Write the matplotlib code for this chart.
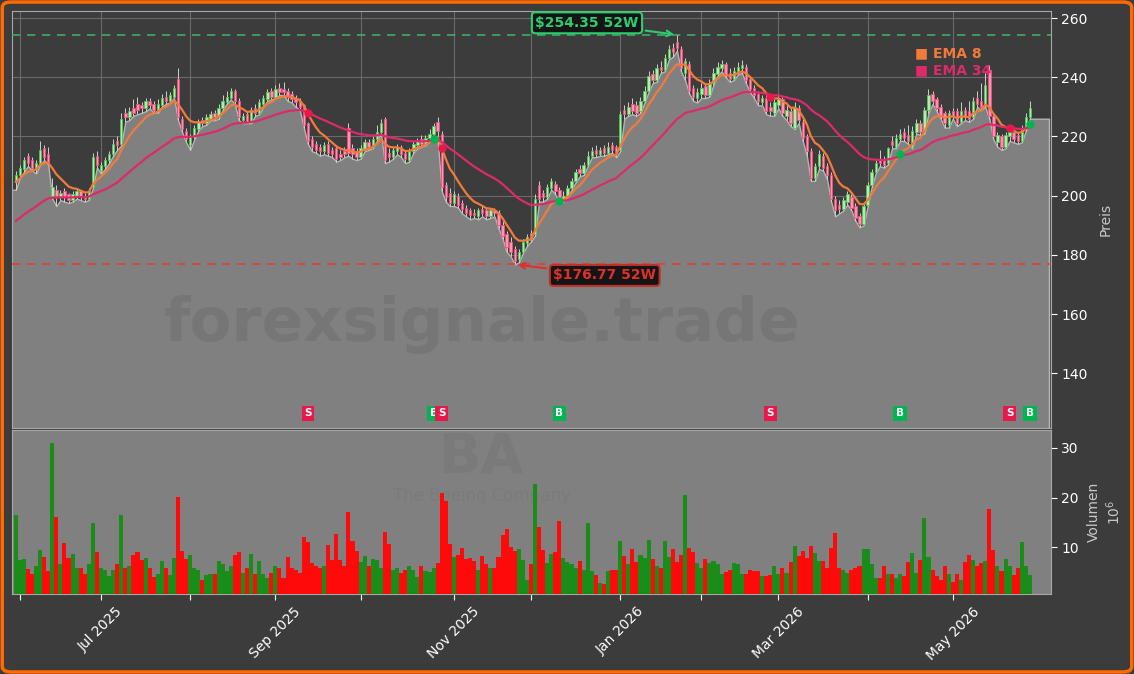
import numpy as np
import pandas as pd
import matplotlib
matplotlib.use('Agg')
import matplotlib.pyplot as plt
from matplotlib.patches import FancyBboxPatch

# Handelstage (NYSE) 30.05.2025 - 29.05.2026
holidays = ['2025-06-19', '2025-07-04', '2025-09-01', '2025-11-27', '2025-12-25',
            '2026-01-01', '2026-01-19', '2026-02-16', '2026-04-03', '2026-05-25']
dates = pd.bdate_range('2025-05-30', '2026-05-29', freq='C', holidays=holidays)

opens = [204.5, 207, 209, 213.5, 212, 209, 211, 216, 214, 200, 202, 199.5, 201.5, 200.5, 198.5, 200, 201.5, 200, 199, 203,
         213.5, 208.5, 210, 212, 214, 218.5, 217.5, 228, 226.5, 229.5, 231, 230.5, 229.5, 232, 231, 229, 230.5, 233.5, 232, 233.5,
         239.5, 226, 222, 217, 220, 222.5, 225.5, 224.5, 226, 228, 226.5, 229.5, 231.5, 233, 235.5, 232, 225.5, 227.5, 225, 229.5,
         228, 231, 232.5, 235.5, 233.5, 236.5, 236, 235.5, 234.5, 233, 232, 230.5, 224.5, 219, 217.5, 216.5, 215, 217.5, 215.5, 216,
         214, 215, 223, 216, 215, 213, 215.5, 218, 216.5, 219, 221.5, 226, 214.5, 213, 215, 216.5, 214.5, 212, 215, 217,
         219, 217.5, 219.5, 221, 225, 221, 203.5, 201, 197.5, 200, 197.5, 196, 195, 194, 193, 195.5, 195, 193, 195, 194,
         190, 187, 184.5, 182, 178.5, 181, 184, 187.5, 187, 203.5, 201, 199.5, 202.5, 204, 202, 198.5, 200, 202.5, 205, 209,
         207.5, 210.5, 213.5, 215.5, 214, 216, 214.5, 217, 216.5, 215.5, 229, 227.5, 231, 230.5, 228.5, 232, 235.5, 241, 239, 243.5,
         242.5, 246.5, 250, 252, 249.5, 241.5, 244.5, 236.5, 233, 234.5, 237, 234, 238, 241, 243, 244.5, 241.5, 239.5, 242, 243,
         243.5, 239.5, 236.5, 234.5, 231.5, 233, 230, 228, 230.5, 232.5, 227, 228.5, 223, 229.5, 225, 220, 215, 206, 210, 213.5,
         210, 207, 199, 197, 195.5, 198, 199.5, 196.5, 193, 190.5, 197, 203.5, 208, 212.5, 212, 211, 218.5, 216.5, 219, 221.5,
         220.5, 216.5, 221.5, 224.5, 222, 229, 234.5, 232.5, 230, 228, 224, 228.5, 228.5, 225, 229, 228.5, 226.5, 233, 232, 230.5,
         242.5, 227, 218, 220, 216.5, 220, 221.5, 220.5, 218.5, 222.5, 226.5]
highs = [208.5, 210.5, 213, 214.5, 213, 212, 218.5, 217, 216.5, 206, 203.5, 202, 202.5, 201, 201.5, 202.5, 202, 201, 202.5, 214.5,
         215, 211.5, 213, 215, 219, 220, 228, 229.5, 230, 232.5, 233.5, 231.5, 233, 233, 232, 232.5, 234.5, 235.5, 235, 237.5,
         243, 227, 223, 221, 224, 226, 226.5, 227.5, 228.5, 229, 231, 234, 235.5, 236.5, 236, 233, 228, 228.5, 230, 231,
         232.5, 234, 236, 236.5, 237.5, 238, 238.5, 236.5, 235.5, 234, 233, 231, 225, 220, 218.5, 217.5, 218, 218.5, 216.5, 217,
         215.5, 216.5, 224.5, 217.5, 216, 217, 219, 219, 220, 224, 226, 226.5, 216, 216.5, 217.5, 217, 215.5, 216, 218.5, 219.5,
         220.5, 220.5, 222.5, 224.5, 226.5, 222, 204.5, 202.5, 201.5, 201, 198.5, 197, 196, 195.5, 196, 196.5, 196, 196, 196, 195,
         191.5, 188, 186, 183, 182, 185.5, 187, 188.5, 200.5, 205, 202, 204, 206, 205, 203, 201.5, 203.5, 206, 209, 210.5,
         211.5, 215, 216.5, 217, 216.5, 217, 218, 218, 217, 228.5, 230.5, 231.5, 233, 232, 233.5, 237, 242, 242.5, 244.5, 245.5,
         248, 251, 251.5, 254.35, 250.5, 246.5, 245.5, 237.5, 236.5, 238, 238, 239.5, 243, 245, 246, 245, 243, 243.5, 245, 246,
         244.5, 240.5, 237.5, 235.5, 234, 234, 231.5, 232.5, 234.5, 233.5, 230.5, 229.5, 231.5, 230.5, 226, 221, 216, 211, 215.5, 214.5,
         211, 208, 200, 198.5, 199.5, 201.5, 200.5, 197.5, 194, 197.5, 204.5, 209, 212, 215.5, 213.5, 216.5, 220, 221, 222.5, 223,
         224, 223.5, 226, 225.5, 230, 236, 235.5, 233.5, 231, 228.5, 229, 229.5, 229.5, 231.5, 230, 232, 233.5, 235.5, 238, 241.5,
         244, 228, 221.5, 221, 221.5, 222.5, 222.5, 221.5, 224, 228, 232]
lows = [202, 206, 208, 210, 208.5, 207.5, 210.5, 212, 210.5, 199, 196.5, 198.5, 198, 197.5, 198, 199, 198.5, 198, 198.5, 202.5,
        209.5, 207.5, 209, 211, 213.5, 215.5, 217, 225, 225.5, 227, 227.5, 228, 228.5, 229.5, 228, 228, 230, 231, 231.5, 233,
        225.5, 221.5, 218, 215.5, 219, 222, 223.5, 224, 225.5, 225.5, 226, 229, 231, 232.5, 231, 225.5, 224.5, 224.5, 224.5, 227,
        227.5, 230, 232, 232.5, 233, 234, 234, 232, 231.5, 230, 229, 223, 217.5, 215, 214.5, 213.5, 214, 213.5, 213, 211.5,
        212, 213, 213.5, 212.5, 212, 212.5, 215, 215.5, 216, 218.5, 221, 211, 211.5, 212.5, 214, 213, 211, 211.5, 214.5, 216,
        216.5, 217, 218.5, 220.5, 219, 201.5, 198, 196.5, 196.5, 196, 194, 193, 192, 192.5, 192, 193, 192, 192.5, 193, 189,
        185.5, 181, 179.5, 176.77, 177.5, 180.5, 183, 184.5, 186.5, 198, 198, 199, 202, 200.5, 197.5, 198, 199.5, 202, 204.5, 206.5,
        207, 210, 213, 213, 213.5, 213.5, 214, 214.5, 213, 215, 226, 227, 227.5, 227, 228, 231.5, 235, 238, 238.5, 241.5,
        242, 246, 247, 249, 242, 239, 234.5, 232, 231.5, 233, 233, 233.5, 237.5, 240.5, 242, 240, 238.5, 239, 241, 241.5,
        238, 235, 233, 230.5, 230.5, 227.5, 227, 227, 229.5, 227, 225.5, 223.5, 222.5, 224.5, 218.5, 213.5, 205, 205, 209, 208.5,
        205.5, 198, 193, 194, 195, 197, 195, 191.5, 189.3, 190, 196.5, 203, 207.5, 210, 209.5, 210.5, 216, 216, 218.5, 218.5,
        217.5, 216, 221, 220.5, 221, 228, 231, 228.5, 226, 223, 223, 226, 223.5, 224.5, 225.5, 225, 226, 230, 229, 230,
        226, 219, 216.5, 215.5, 216, 218.5, 218, 217.5, 218, 222, 226]
closes = [207, 209.5, 212, 211, 209.5, 211, 215.5, 213, 211.5, 203, 200, 201, 199.5, 198.5, 200.5, 201.5, 199.5, 199, 201.5, 213,
          210.5, 210.5, 212, 214, 217.5, 217, 226, 226.5, 228.5, 228, 229, 229.5, 232, 230.5, 229, 231, 233, 232, 234, 236.5,
          226.5, 222.5, 219, 220, 223, 225, 224.5, 226.5, 227.5, 226.5, 229.5, 232, 233.5, 235.5, 232, 226.5, 227, 225, 229, 228,
          231.5, 233, 235, 233.5, 236, 235, 235, 233.5, 232.5, 231.5, 230, 224, 218.5, 216.5, 215.5, 215, 217, 214.5, 214, 212.5,
          213, 214, 214.5, 214, 213, 216, 218, 216.5, 219, 221.5, 224.5, 212, 213, 215.5, 216.5, 214, 212.5, 215, 217.5, 218.5,
          217.5, 219.5, 221, 223.5, 222, 203, 199.5, 197.5, 200.5, 197, 195.5, 194, 193.5, 193.5, 195, 194, 193, 195, 194, 190,
          186.5, 182.5, 181, 178, 181, 184.5, 186, 185.5, 199, 199, 199.5, 203, 205, 201.5, 198.5, 200, 202.5, 205, 208, 207.5,
          210.5, 213.5, 215, 214, 215.5, 214.5, 216.5, 215.5, 214.5, 227.5, 227.5, 230, 228.5, 228, 232, 235.5, 240.5, 239, 243, 242.5,
          246.5, 249.5, 248.5, 250, 243, 245.5, 235.5, 233.5, 235, 236.5, 234, 238, 241.5, 243.5, 244.5, 241, 239.5, 242, 243.5, 244,
          239, 236, 234, 232, 233, 228.5, 228.5, 231.5, 233, 228, 229, 224.5, 230, 225.5, 219.5, 215, 206, 210, 214, 209.5,
          207, 199, 195, 195.5, 198.5, 200.5, 196, 192.5, 190.5, 196.5, 203.5, 208, 211, 211, 210.5, 216, 217, 219.5, 221, 219.5,
          218.5, 222, 224.5, 221.5, 229, 234, 232, 229.5, 227, 224.5, 228, 227, 224.5, 228.5, 226.5, 226, 232, 231, 230, 237.5,
          227, 220, 220.5, 216.5, 220.5, 221.5, 219, 218.5, 222.5, 226.5, 229.5]
# Volumen in Mio. Stueck
volume_m = [16.4, 7.4, 7.6, 5.6, 4.6, 6.2, 9.4, 8.0, 5.2, 30.9, 16.0, 6.7, 10.8, 7.9, 8.7, 5.8, 5.8, 4.6, 6.7, 14.9,
            9.0, 5.8, 5.5, 4.2, 5.5, 6.6, 16.4, 5.9, 6.3, 8.5, 9.0, 7.4, 7.9, 5.8, 4.0, 4.6, 7.2, 5.9, 4.4, 7.9,
            20.2, 9.2, 7.6, 8.4, 5.8, 5.5, 3.5, 4.4, 4.6, 4.6, 7.2, 6.6, 5.2, 6.2, 8.4, 9.0, 4.8, 5.9, 8.6, 4.6,
            7.2, 4.6, 3.8, 4.8, 6.2, 5.8, 3.8, 8.1, 5.8, 5.4, 4.8, 12.1, 11.0, 6.8, 6.2, 5.9, 6.2, 10.4, 7.4, 12.6,
            7.4, 6.3, 17.2, 11.2, 9.2, 7.0, 8.2, 6.3, 7.6, 7.4, 5.9, 13.0, 10.6, 5.4, 5.8, 4.8, 5.4, 6.3, 5.5, 4.0,
            6.2, 5.2, 5.0, 5.9, 6.8, 21.0, 19.4, 10.6, 8.1, 8.4, 9.8, 7.6, 7.8, 7.2, 5.5, 8.2, 6.6, 5.9, 5.8, 8.1,
            12.4, 13.6, 10.0, 9.2, 9.6, 7.4, 3.5, 6.6, 22.8, 14.0, 9.4, 6.8, 8.6, 9.0, 15.2, 7.8, 7.0, 6.6, 5.9, 7.2,
            5.4, 14.9, 5.2, 4.4, 2.8, 2.6, 5.2, 5.4, 5.4, 11.2, 8.2, 6.6, 9.6, 7.0, 8.4, 7.8, 11.4, 7.6, 6.3, 5.8,
            11.2, 8.1, 9.6, 7.0, 8.4, 20.6, 9.8, 9.0, 6.8, 5.9, 7.6, 6.8, 7.2, 6.6, 4.6, 5.0, 5.5, 6.8, 6.6, 4.6,
            4.6, 5.5, 5.2, 5.2, 4.2, 4.2, 4.4, 6.2, 4.6, 5.9, 4.8, 7.0, 10.2, 8.2, 9.2, 7.8, 10.2, 8.8, 7.2, 7.2,
            5.8, 9.8, 12.8, 5.9, 5.5, 4.8, 5.5, 5.8, 6.3, 9.6, 9.6, 6.6, 3.9, 3.8, 6.2, 4.6, 4.6, 3.9, 4.6, 4.2,
            7.0, 8.8, 4.8, 7.4, 15.8, 8.1, 5.5, 4.2, 3.5, 6.2, 4.6, 3.1, 4.6, 3.5, 7.0, 8.4, 7.4, 6.2, 6.8, 7.2,
            17.8, 9.4, 6.3, 5.2, 7.6, 6.2, 4.4, 5.8, 11.0, 6.3, 4.4]

ema8_start = 204.0     # EMA-Stand vor dem ersten Tag
ema34_start = 190.5
ticker = 'BA'
company = 'The Boeing Company'


def ema(values, span, start):
    alpha = 2 / (span + 1)
    out = []
    e = start
    for v in values:
        e = e + alpha * (v - e)
        out.append(e)
    return np.array(out)


o = np.array(opens)
h = np.array(highs)
l = np.array(lows)
c = np.array(closes)
n = len(c)
x = np.arange(n)
ema8 = ema(c, 8, ema8_start)
ema34 = ema(c, 34, ema34_start)

diff = np.sign(ema8 - ema34)
buys = [i for i in range(1, n) if diff[i] > 0 and diff[i - 1] <= 0]
sells = [i for i in range(1, n) if diff[i] <= 0 and diff[i - 1] > 0]

i_hi = int(np.argmax(h))
i_lo = int(np.argmin(l))
hi52 = h[i_hi]
lo52 = l[i_lo]

BG = '#3c3c3c'
GRAY = '#808080'
C_EMA8 = '#f27a3a'
C_EMA34 = '#dc2a6a'
C_BUY = '#00b551'
C_SELL = '#e8194a'

fig = plt.figure(figsize=(11.34, 6.74), dpi=100, facecolor=BG)
ax = fig.add_axes([0.0106, 0.365, 0.9162, 0.6187])
axv = fig.add_axes([0.0106, 0.1187, 0.9162, 0.2433], sharex=ax)

ymin, ymax = 121.5, 262.4
xl = (-0.93, 255.2)

ax.set_facecolor(BG)
ax.set_axisbelow(True)

# Flaeche unter den Tiefs
xf = np.r_[xl[0] - 1, x, xl[1] - 0.5]
yf = np.r_[l[0], l, l[-1]]
ax.fill_between(xf, yf, ymin - 5, facecolor=GRAY, edgecolor='#b4b4b4', lw=1.0, zorder=2)

ax.text(0.452, 0.247, 'forexsignale.trade', transform=ax.transAxes, ha='center', va='center',
        fontsize=44, fontweight='bold', color='#767676', zorder=2.5)

# Kerzen
up = c >= o
ax.vlines(x, l, h, color='#d0d0d0', lw=0.7, zorder=3)
ax.bar(x[up], (c - o)[up], bottom=o[up], width=0.6, color='#b5e8b5', edgecolor='#52c552', lw=0.6, zorder=4)
ax.bar(x[~up], (o - c)[~up], bottom=c[~up], width=0.6, color='#ff94b2', edgecolor='#f0507a', lw=0.6, zorder=4)

ax.plot(x, ema8, color=C_EMA8, lw=1.6, zorder=5)
ax.plot(x, ema34, color=C_EMA34, lw=1.6, zorder=5)

ax.axhline(hi52, color='#3fae63', ls=(0, (5, 4)), lw=1.2, zorder=2.8)
ax.axhline(lo52, color='#e0403a', ls=(0, (5, 4)), lw=1.2, zorder=2.8)

ax.annotate(f'${hi52:.2f} 52W', xy=(i_hi, hi52), xytext=(-90, 12), textcoords='offset pixels',
            ha='center', va='center', fontsize=10, fontweight='bold', color='#2ecc71',
            bbox=dict(boxstyle='round,pad=0.25', fc='#151515', ec='#2ecc71', lw=1.5),
            arrowprops=dict(arrowstyle='->', color='#2ecc71', lw=1.5), zorder=7)
ax.annotate(f'${lo52:.2f} 52W', xy=(i_lo, lo52), xytext=(90, -11), textcoords='offset pixels',
            ha='center', va='center', fontsize=10, fontweight='bold', color='#e0302a',
            bbox=dict(boxstyle='round,pad=0.25', fc='#151515', ec='#c0302a', lw=1.5),
            arrowprops=dict(arrowstyle='->', color='#e0302a', lw=1.5), zorder=7)

# Signale (EMA-Kreuzungen)
for i in buys:
    ax.plot(i, ema8[i], 'o', ms=5, color=C_BUY, zorder=6)
    ax.text(i, 126.5, 'B', ha='center', va='center', fontsize=7.5, fontweight='bold', color='white',
            bbox=dict(boxstyle='square,pad=0.25', fc=C_BUY, ec='none'), zorder=6)
for i in sells:
    ax.plot(i, ema8[i], 'o', ms=5, color=C_SELL, zorder=6)
    ax.text(i, 126.5, 'S', ha='center', va='center', fontsize=7.5, fontweight='bold', color='white',
            bbox=dict(boxstyle='square,pad=0.25', fc=C_SELL, ec='none'), zorder=6)

ax.text(0.869, 0.899, '■ EMA 8', transform=ax.transAxes, va='center', fontsize=10,
        fontweight='bold', color=C_EMA8, zorder=7)
ax.text(0.869, 0.858, '■ EMA 34', transform=ax.transAxes, va='center', fontsize=10,
        fontweight='bold', color=C_EMA34, zorder=7)

ax.set_ylim(ymin, ymax)
ax.set_xlim(*xl)
ax.yaxis.tick_right()
ax.yaxis.set_label_position('right')
ax.set_yticks([140, 160, 180, 200, 220, 240, 260])
ax.set_ylabel('Preis', color='#c8c8c8', fontsize=10, labelpad=8)
ax.grid(True, color='#6a6a6a', lw=0.8)
ax.tick_params(axis='y', colors='white', labelsize=10, length=4)
ax.tick_params(axis='x', length=0, labelbottom=False)
for s in ax.spines.values():
    s.set_color('#a8a8a8')

# Monatsticks
month_first = [i for i in range(1, n) if dates[i].month != dates[i - 1].month]
labels = [dates[i].strftime('%b %Y') if dates[i].month % 2 == 1 else '' for i in month_first]
ax.set_xticks(month_first)

# Volumen
axv.set_facecolor(GRAY)
vcol = np.where(up, '#1a8c1a', '#ff0a0a')
axv.bar(x, volume_m, width=1.0, color=vcol, zorder=3)
axv.text(0.452, 0.83, ticker, transform=axv.transAxes, ha='center', va='center', fontsize=40,
         fontweight='bold', color='#7a7a7a', zorder=1)
axv.text(0.452, 0.6, company, transform=axv.transAxes, ha='center', va='center', fontsize=12,
         color='#7b7b7b', zorder=1)
axv.set_ylim(0.6, 33.6)
axv.yaxis.tick_right()
axv.yaxis.set_label_position('right')
axv.set_yticks([10, 20, 30])
axv.set_ylabel('Volumen\n$10^6$', color='#c8c8c8', fontsize=10, labelpad=6)
axv.tick_params(axis='y', colors='white', labelsize=10, length=4)
axv.tick_params(axis='x', colors='white', labelsize=10, length=4)
axv.set_xticks(month_first)
axv.set_xticklabels(labels, rotation=45, ha='center')
for s in axv.spines.values():
    s.set_color('#a8a8a8')

fig.patches.append(FancyBboxPatch((0.002, 0.003), 0.996, 0.994, boxstyle='round,pad=0,rounding_size=0.008',
                                  transform=fig.transFigure, fc='none', ec='#ff6a00', lw=2.5))

fig.savefig('out.png', dpi=100, facecolor=BG)
